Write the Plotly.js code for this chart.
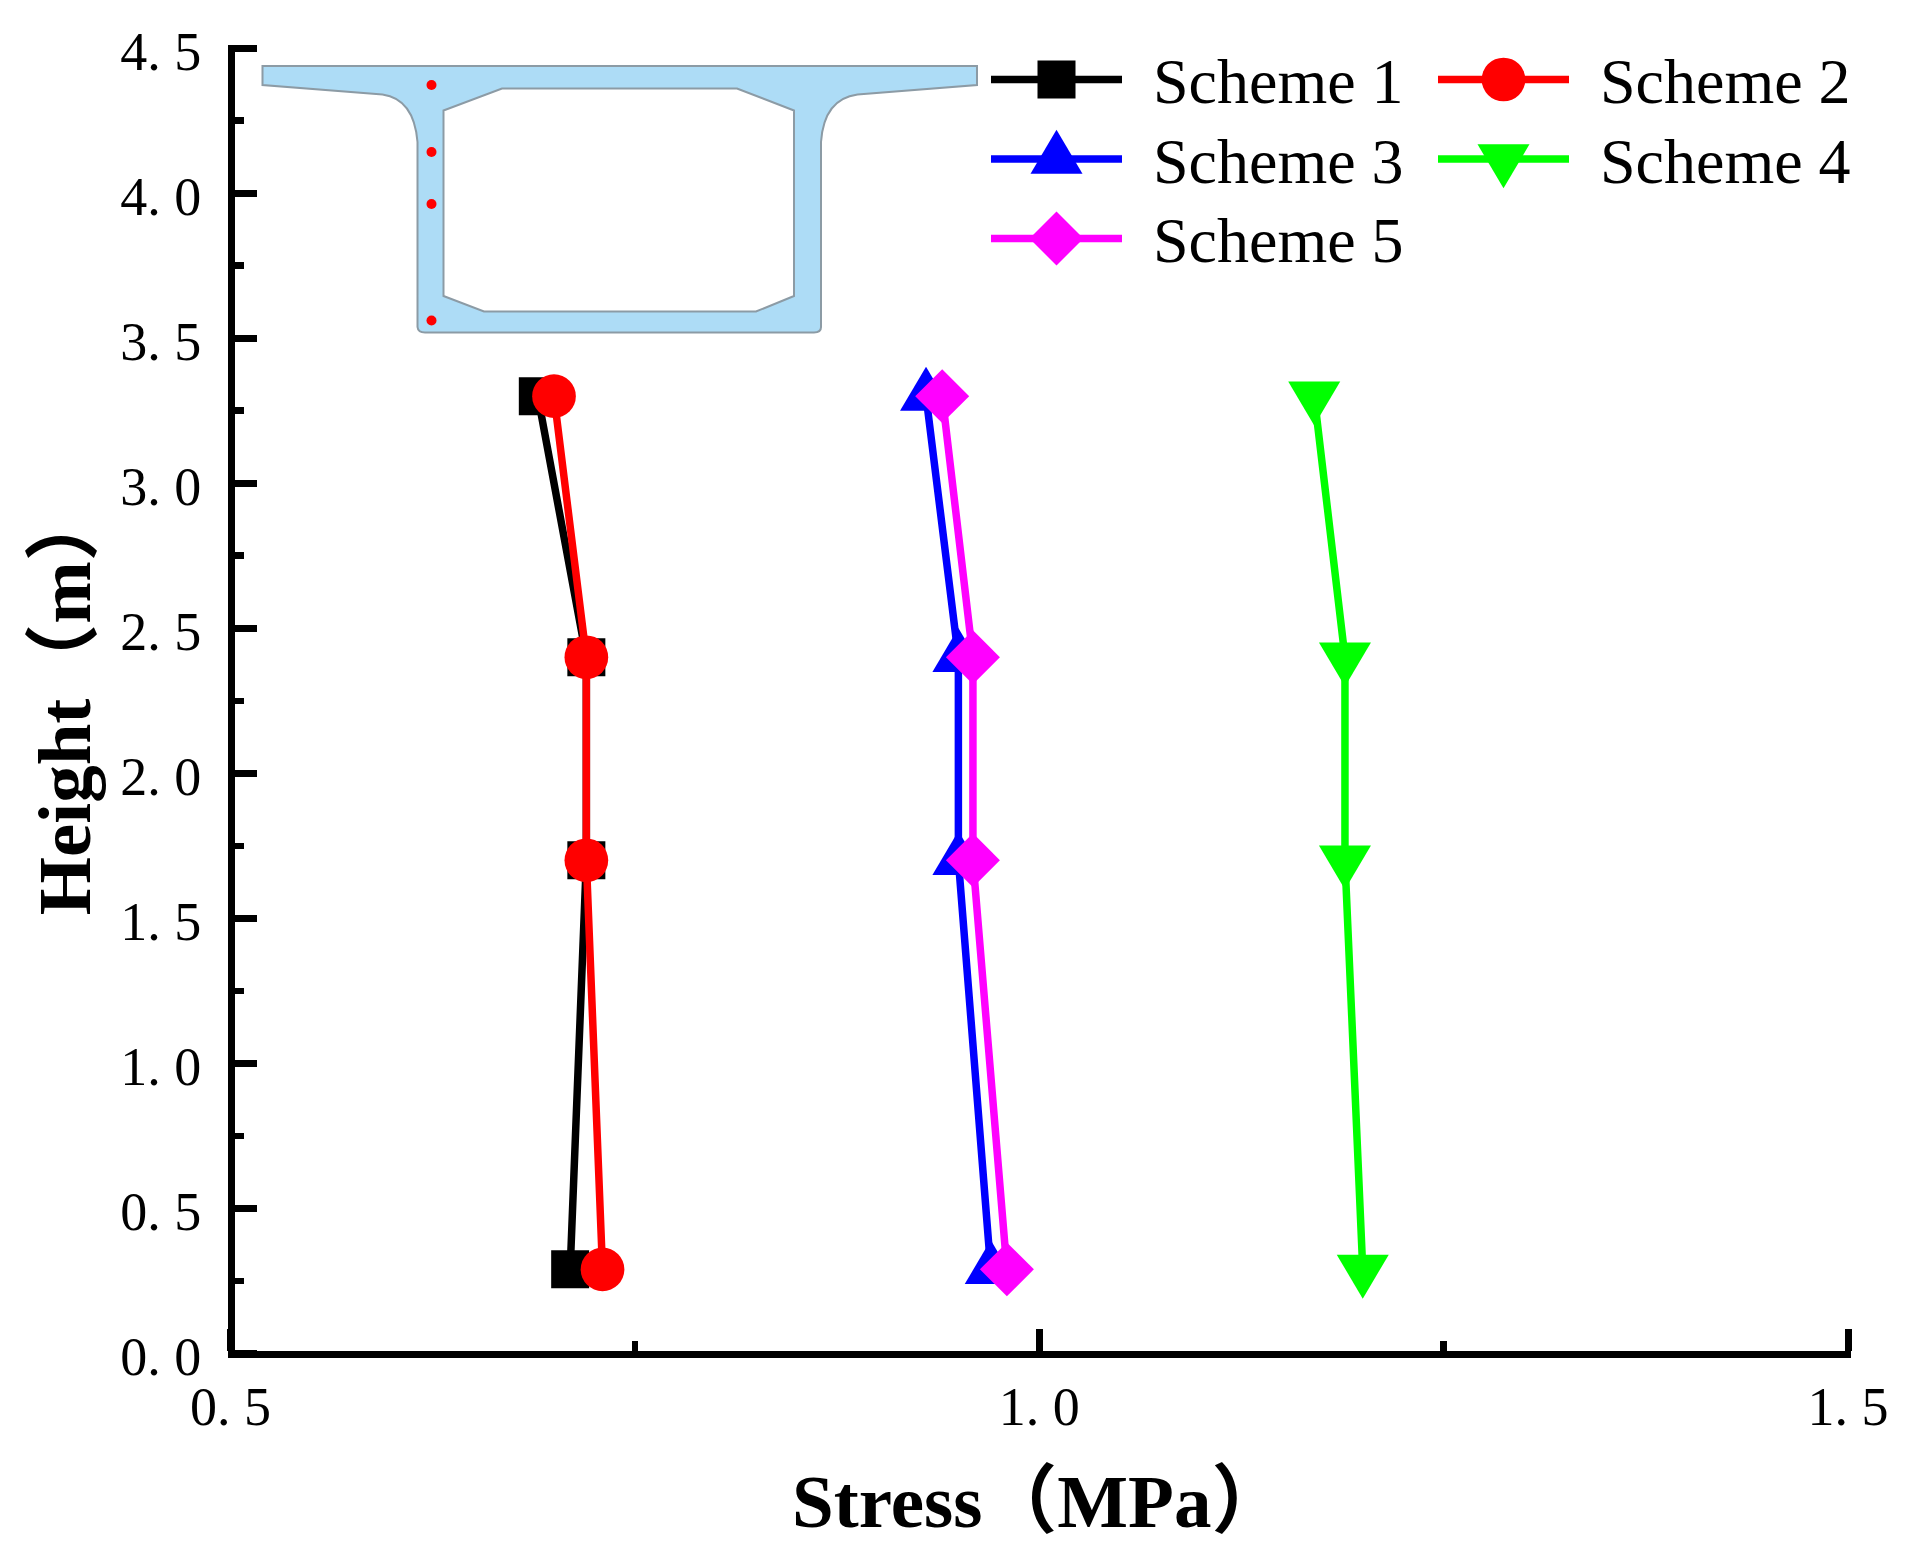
<!DOCTYPE html>
<html>
<head>
<meta charset="utf-8">
<script src="https://cdn.plot.ly/plotly-3.0.1.min.js"></script>
<style>html,body{margin:0;padding:0;background:#fff}</style>
</head>
<body>
<div id="chart" style="width:1907px;height:1550px"></div>
<script>
// ---- data ----
var heights  = [0.29, 1.7, 2.4, 3.3];
var scheme1  = [0.710, 0.720, 0.720, 0.690];
var scheme2  = [0.730, 0.720, 0.720, 0.700];
var scheme3  = [0.970, 0.950, 0.950, 0.930];
var scheme4  = [1.200, 1.189, 1.189, 1.170];
var scheme5  = [0.980, 0.959, 0.959, 0.940];
var xTickVals = [0.5, 1.0, 1.5];
var xTickText = ['0. 5', '1. 0', '1. 5'];
var yTickVals = [0, 0.5, 1, 1.5, 2, 2.5, 3, 3.5, 4, 4.5];
var yTickText = ['0. 0','0. 5','1. 0','1. 5','2. 0','2. 5','3. 0','3. 5','4. 0','4. 5'];

// ---- frame geometry (page pixels) ----
var W = 1907, H = 1550;
var L = 200, R = 1907, T = 30, B = 1380;
var pw = R - L, ph = B - T;
var endPad = 3;                        // keeps the end ticks inside the axis range
var xUnit = 1617.5, yUnit = 1305.5 / 4.5;
function X(p){ return (p - L) / pw; }
function Y(p){ return (B - p) / ph; }
function fx(p){ return X(p).toFixed(5); }
function fy(p){ return Y(p).toFixed(5); }
function P(cmd, x, y){ return cmd + fx(x) + ',' + fy(y); }
function Q(cx, cy, x, y){ return 'Q' + fx(cx) + ',' + fy(cy) + ' ' + fx(x) + ',' + fy(y); }

// ---- inset: box-girder cross-section (decoration, page pixels) ----
var girder =
  P('M',262.5,66) + P('L',977,66) + P('L',977,85) + P('L',857.5,94.5) +
  Q(824,99,821,142) + P('L',821,327) + Q(821,332.5,814,332.5) +
  P('L',425,332.5) + Q(418,332.5,417.5,327) + P('L',417.5,142) +
  Q(414,99,382.5,94.5) + P('L',262.5,85) + 'Z ' +
  P('M',502,88.5) + P('L',737,88.5) + P('L',794,110.5) + P('L',794,296) +
  P('L',756,311.5) + P('L',484,311.5) + P('L',443.5,296) + P('L',443.5,110.5) + 'Z';
var dotYs = [85, 152, 204, 320.5];
var shapes = [{
  type:'path', xref:'paper', yref:'paper', layer:'below', path:girder,
  fillcolor:'#ADDCF6', fillrule:'evenodd', line:{color:'#8C9BA5', width:2}
}].concat(dotYs.map(function(py){
  return {type:'circle', xref:'paper', yref:'paper', layer:'below',
    x0:X(431.5-5), x1:X(431.5+5), y0:Y(py+5), y1:Y(py-5),
    fillcolor:'#FF0000', line:{width:0}};
}));

function series(name, xs, color, symbol, size){
  return {type:'scatter', mode:'lines+markers', name:name, x:xs, y:heights,
    line:{color:color, width:7.5},
    marker:{symbol:symbol, size:size, color:color, line:{width:0}}};
}
var data = [
  series('Scheme 1', scheme1, '#000000', 'square', 38),
  series('Scheme 2', scheme2, '#FF0000', 'circle', 43.7),
  series('Scheme 3', scheme3, '#0000FF', 'triangle-up', 45),
  series('Scheme 4', scheme4, '#00FF00', 'triangle-down', 45),
  series('Scheme 5', scheme5, '#FF00FF', 'diamond', 41.5)
];

var serif = '"Liberation Serif","Noto Sans CJK SC",serif';
var layout = {
  width:W, height:H, paper_bgcolor:'#fff', plot_bgcolor:'rgba(0,0,0,0)',
  margin:{l:L, r:W-R, t:T, b:H-B, pad:0},
  font:{family:serif, color:'#000'},
  showlegend:true, shapes:shapes,
  legend:{orientation:'v', x:X(986), y:Y(38), xanchor:'left', yanchor:'top',
    font:{family:serif, size:64, color:'#000'}, itemwidth:131,
    bgcolor:'rgba(0,0,0,0)', borderwidth:0, traceorder:'normal'},
  xaxis:{
    domain:[X(230.5-endPad), X(1848+endPad)],
    range:[0.5-endPad/xUnit, 1.5+endPad/xUnit],
    anchor:'free', position:Y(1353.5),
    showgrid:false, zeroline:false, showline:true, linecolor:'#000', linewidth:7,
    tickmode:'array', tickvals:xTickVals, ticktext:xTickText,
    ticks:'inside', ticklen:22, tickwidth:7, tickcolor:'#000',
    ticklabelstandoff:3, tickfont:{family:serif, size:54, color:'#000'},
    minor:{ticks:'inside', ticklen:10, tickwidth:6.5, tickcolor:'#000', tick0:0.5, dtick:0.25, showgrid:false},
    title:{text:'Stress（MPa）', standoff:62, font:{family:serif, size:75, color:'#000', weight:700}}
  },
  yaxis:{
    domain:[Y(1353.5+endPad), Y(48-endPad)],
    range:[0-endPad/yUnit, 4.5+endPad/yUnit],
    anchor:'free', position:X(231),
    showgrid:false, zeroline:false, showline:true, linecolor:'#000', linewidth:7,
    tickmode:'array', tickvals:yTickVals, ticktext:yTickText,
    ticks:'inside', ticklen:22, tickwidth:7, tickcolor:'#000',
    ticklabelstandoff:16, ticklabelshift:3, tickfont:{family:serif, size:54, color:'#000'},
    minor:{ticks:'inside', ticklen:9, tickwidth:6.5, tickcolor:'#000', tick0:0, dtick:0.25, showgrid:false},
    title:{text:'Height（m）', standoff:3, font:{family:serif, size:75, color:'#000', weight:700}}
  }
};

var gd = document.getElementById('chart');
Plotly.newPlot(gd, data, layout, {staticPlot:true, displayModeBar:false}).then(function(){
  // triangle markers are closer to equilateral in the reference
  var traces = gd.querySelectorAll('.scatterlayer .trace');
  var triUp = 'M-26,14.7H26L0,-29.3Z', triDown = 'M-26,-14.7H26L0,29.3Z';
  traces[2].querySelectorAll('.points path').forEach(function(p){ p.setAttribute('d', triUp); });
  traces[3].querySelectorAll('.points path').forEach(function(p){ p.setAttribute('d', triDown); });
  // x title sits a little higher than the margin constraint leaves it
  var xt = gd.querySelector('.xtitle');
  if (xt) xt.setAttribute('y', parseFloat(xt.getAttribute('y')) - 7);
  // legend: keys as large as the plotted markers, two columns as in the reference
  var colStep = 447, rowStep = 79.5, firstRow = 79.5, legendLeft = 986;
  var legend = gd.querySelector('.legend');
  legend.setAttribute('transform', 'translate(' + legendLeft + ',0)');
  var sb = legend.querySelector('.scrollbox');
  if (sb) { sb.removeAttribute('clip-path'); sb.setAttribute('transform', 'translate(0,0)'); }
  legend.removeAttribute('clip-path');
  legend.querySelectorAll('.traces').forEach(function(it, i){
    var src = traces[i].querySelector('.points path');
    var key = it.querySelector('.legendpoints .scatterpts');
    if (src && key) key.setAttribute('d', src.getAttribute('d'));
    var txt = it.querySelector('.legendtext');
    if (txt) {
      txt.setAttribute('x', parseFloat(txt.getAttribute('x')) + 26);
      txt.setAttribute('y', parseFloat(txt.getAttribute('y')) - 1);
    }
    it.setAttribute('transform', 'translate(' + (i % 2) * colStep + ',' + (firstRow + Math.floor(i / 2) * rowStep) + ')');
  });
});
</script>
</body>
</html>
